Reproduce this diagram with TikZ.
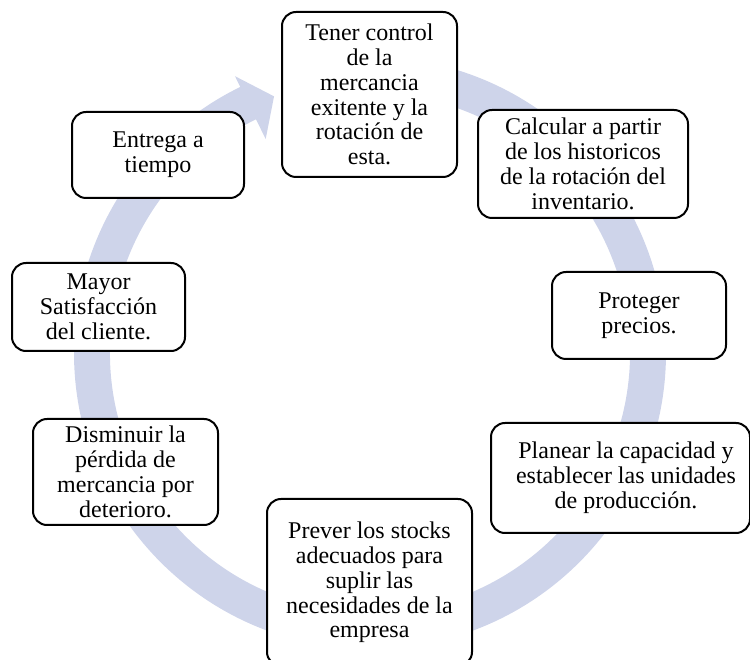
\documentclass[tikz,border=0pt]{standalone}
\usepackage{fontspec}
\setmainfont{Liberation Serif}
\definecolor{ringc}{RGB}{206,212,234}
\begin{document}
\begin{tikzpicture}[x=1pt,y=1pt,
  cbox/.style={draw=black, line width=2pt, fill=white, rounded corners=14pt,
    inner sep=0pt, align=center, font=\fontsize{24}{24.8}\selectfont},
  ctxt/.style={inner sep=0pt, align=center, font=\fontsize{24}{24.8}\selectfont}]
\useasboundingbox (0,0) rectangle (750,659);
\clip (0,0) rectangle (750,659);
% circular arrow
\begin{scope}[shift={(370,306)}]
\fill[ringc] (90:296) arc[start angle=90, end angle=-244, radius=296]
  -- (116:308) -- (110.5:274) -- (116:238) -- (116:260)
  arc[start angle=-244, end angle=90, radius=260] -- cycle;
\end{scope}
% boxes
\node[cbox, minimum width=175, minimum height=165] (tener) at (369.5,564.5)
  {Tener control\\de la\\mercancia\\exitente y la\\rotación de\\esta.};
\node[cbox, minimum width=210, minimum height=108] (calcular) at (583,495)
  {Calcular a partir\\de los historicos\\de la rotación del\\inventario.};
\node[cbox, minimum width=174, minimum height=87] (proteger) at (639,343.5)
  {Proteger\\precios.};
\node[cbox, minimum width=259, minimum height=110] (planear) at (620.5,181) {};
\node[ctxt] (planeartxt) at (626,181)
  {Planear la capacidad y\\establecer las unidades\\de producción.};
\node[cbox, minimum width=205, minimum height=167] (prever) at (369.5,76.5)
  {Prever los stocks\\adecuados para\\suplir las\\necesidades de la\\empresa};
\node[cbox, minimum width=185, minimum height=106] (disminuir) at (125.5,187)
  {Disminuir la\\pérdida de\\mercancia por\\deterioro.};
\node[cbox, minimum width=173, minimum height=88] (mayor) at (98.5,352)
  {Mayor\\Satisfacción\\del cliente.};
\node[cbox, minimum width=172, minimum height=86] (entrega) at (158,504)
  {Entrega a\\tiempo};
\end{tikzpicture}
\end{document}
